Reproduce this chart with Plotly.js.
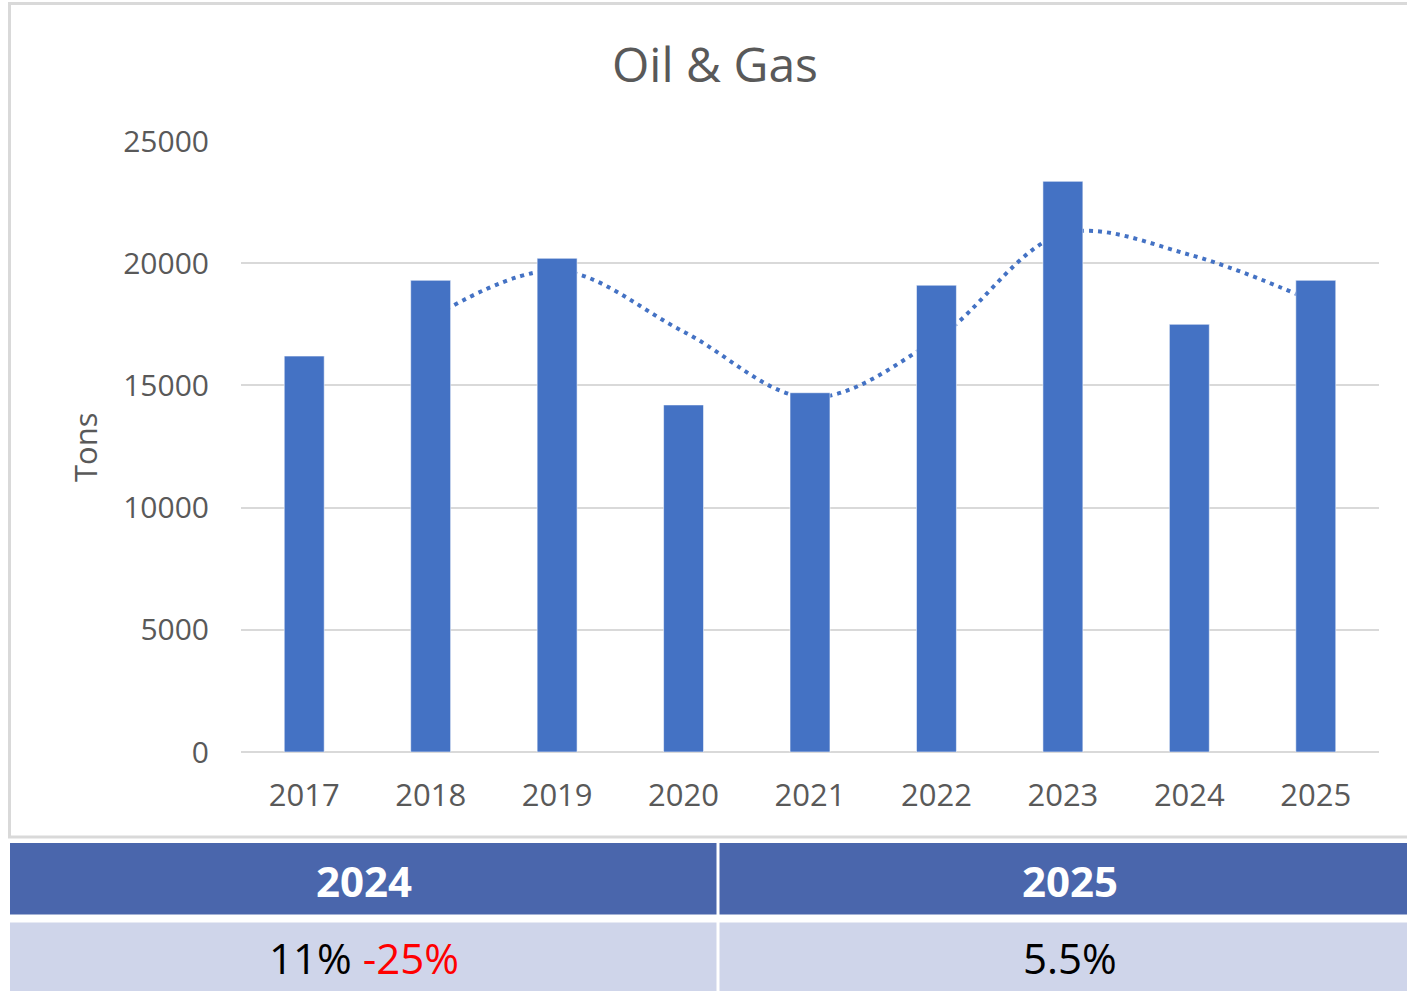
<!DOCTYPE html>
<html>
<head>
<meta charset="utf-8">
<script src="https://cdn.plot.ly/plotly-3.0.1.min.js"></script>
<style>
  html, body { margin: 0; padding: 0; background: #ffffff; }
  #chart { width: 1407px; height: 991px; }
</style>
</head>
<body>
<div id="chart"></div>
<script>
// ---- data ----
const years = ['2017', '2018', '2019', '2020', '2021', '2022', '2023', '2024', '2025'];
const tons = [16200, 19300, 20200, 14200, 14700, 19100, 23350, 17500, 19300];
const movingAvg = [null, 17750, 19700, 17200, 14500, 16900, 21200, 20350, 18400];
const tableYears = ['2024', '2025'];
const tableValues = ['11% <span style="color:#ff0000">-25%</span>', '5.5%'];

// ---- layout helpers (pixel -> paper) ----
const W = 1407, H = 991;
const M = { l: 241, r: 28, t: 141, b: 239 };
const PW = W - M.l - M.r, PH = H - M.t - M.b;
const px = v => (v - M.l) / PW;
const py = v => (H - M.b - v) / PH;

const gray = '#595959';
const font = 'Open Sans, Noto Sans, sans-serif';

const lineTrace = {
  type: 'scatter', mode: 'lines',
  x: years, y: movingAvg,
  xaxis: 'x', yaxis: 'y',
  line: { color: '#4472C4', width: 4, dash: '4px,5px', shape: 'spline', smoothing: 1 },
  hoverinfo: 'skip', showlegend: false
};
const barTrace = {
  type: 'bar',
  x: years, y: tons,
  xaxis: 'x', yaxis: 'y2',
  marker: { color: '#4472C4', line: { color: 'rgba(255,255,255,0.55)', width: 1 } },
  showlegend: false
};

const shapes = [
  // chart frame
  { type: 'rect', xref: 'paper', yref: 'paper', x0: px(9.5), x1: px(1412), y0: py(3.5), y1: py(837),
    line: { color: '#d9d9d9', width: 3 }, fillcolor: 'rgba(0,0,0,0)', layer: 'below' },
  // table header
  { type: 'rect', xref: 'paper', yref: 'paper', x0: px(10), x1: px(716.5), y0: py(843), y1: py(914.5),
    line: { width: 0 }, fillcolor: '#4A66AC', layer: 'above' },
  { type: 'rect', xref: 'paper', yref: 'paper', x0: px(719.5), x1: px(1408), y0: py(843), y1: py(914.5),
    line: { width: 0 }, fillcolor: '#4A66AC', layer: 'above' },
  // table data row
  { type: 'rect', xref: 'paper', yref: 'paper', x0: px(10), x1: px(716.5), y0: py(922.5), y1: py(992),
    line: { width: 0 }, fillcolor: '#CFD5EA', layer: 'above' },
  { type: 'rect', xref: 'paper', yref: 'paper', x0: px(719.5), x1: px(1408), y0: py(922.5), y1: py(992),
    line: { width: 0 }, fillcolor: '#CFD5EA', layer: 'above' }
];

const annotations = [
  { text: 'Tons', xref: 'paper', yref: 'paper', x: px(85), y: py(447), textangle: -90,
    showarrow: false, xanchor: 'center', yanchor: 'middle', font: { family: font, size: 31, color: gray } },
  { text: '<b>' + tableYears[0] + '</b>', xref: 'paper', yref: 'paper', x: px(364), y: py(880),
    showarrow: false, xanchor: 'center', yanchor: 'middle', font: { family: font, size: 42, color: '#ffffff' } },
  { text: '<b>' + tableYears[1] + '</b>', xref: 'paper', yref: 'paper', x: px(1070), y: py(880),
    showarrow: false, xanchor: 'center', yanchor: 'middle', font: { family: font, size: 42, color: '#ffffff' } },
  { text: tableValues[0], xref: 'paper', yref: 'paper', x: px(364), y: py(958),
    showarrow: false, xanchor: 'center', yanchor: 'middle', font: { family: font, size: 42, color: '#000000' } },
  { text: tableValues[1], xref: 'paper', yref: 'paper', x: px(1070), y: py(958),
    showarrow: false, xanchor: 'center', yanchor: 'middle', font: { family: font, size: 42, color: '#000000' } }
];

const layout = {
  width: W, height: H,
  margin: M,
  paper_bgcolor: '#ffffff', plot_bgcolor: '#ffffff',
  title: { text: 'Oil &amp; Gas', x: 715 / W, xref: 'container', xanchor: 'center',
           y: 1 - 65 / H, yref: 'container', yanchor: 'middle',
           font: { family: font, size: 48, color: gray } },
  bargap: 0.684,
  xaxis: {
    type: 'category', showgrid: false, zeroline: false, showline: false,
    ticks: 'outside', ticklen: 16, tickcolor: 'rgba(0,0,0,0)',
    tickfont: { family: font, size: 31, color: gray }, fixedrange: true
  },
  yaxis: {
    range: [0, 25000], dtick: 5000, tick0: 0, tickformat: 'd',
    showgrid: true, gridcolor: '#d9d9d9', gridwidth: 2,
    zeroline: true, zerolinecolor: '#d9d9d9', zerolinewidth: 2,
    showline: false, ticks: 'outside', ticklen: 25, tickcolor: 'rgba(0,0,0,0)',
    tickfont: { family: font, size: 30, color: gray }, fixedrange: true
  },
  yaxis2: {
    range: [0, 25000], overlaying: 'y', side: 'left',
    showgrid: false, zeroline: false, showline: false, showticklabels: false, ticks: '', fixedrange: true
  },
  shapes: shapes,
  annotations: annotations,
  showlegend: false
};

Plotly.newPlot('chart', [lineTrace, barTrace], layout, { displayModeBar: false, staticPlot: true });
</script>
</body>
</html>
